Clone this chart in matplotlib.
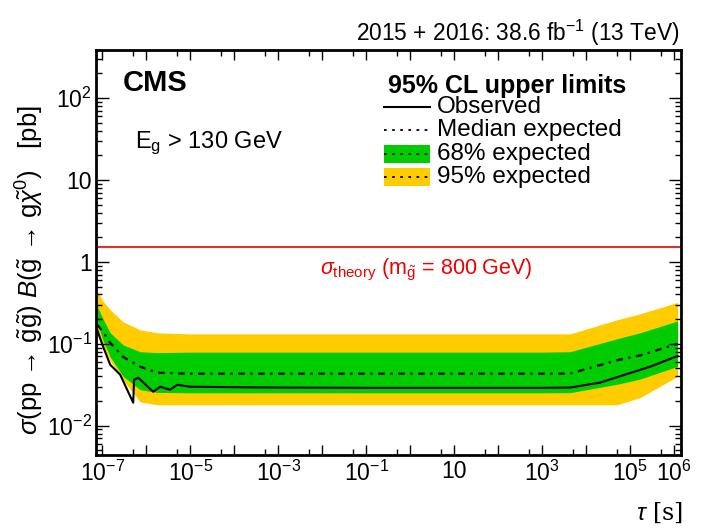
import numpy as np
import matplotlib
matplotlib.use("Agg")
import matplotlib.pyplot as plt
from matplotlib.ticker import FixedLocator, LogLocator, NullFormatter

plt.rcParams['font.family'] = ['Liberation Sans', 'DejaVu Sans']
plt.rcParams['mathtext.fontset'] = 'custom'
plt.rcParams['mathtext.rm'] = 'Liberation Sans'
plt.rcParams['mathtext.it'] = 'Liberation Sans:italic'
plt.rcParams['mathtext.bf'] = 'Liberation Sans:bold'

# ---- data (tau in s, cross section in pb) ----
band_tau = [7.7e-8, 1.05e-7, 1.52e-7, 3.0e-7, 7.3e-7, 1.8e-6, 1e-5, 1e-3, 1e-1, 10, 1e3, 4.3e3, 5e4, 1.67e5, 1.2e6]
yellow_hi = [0.44, 0.33, 0.26, 0.185, 0.148, 0.136, 0.132, 0.132, 0.132, 0.132, 0.132, 0.132, 0.196, 0.232, 0.32]
yellow_lo = [0.125, 0.09, 0.062, 0.036, 0.0195, 0.018, 0.018, 0.018, 0.018, 0.018, 0.018, 0.018, 0.018, 0.022, 0.040]
green_hi = [0.29, 0.2, 0.136, 0.097, 0.080, 0.078, 0.079, 0.079, 0.079, 0.079, 0.079, 0.080, 0.115, 0.136, 0.19]
green_lo = [0.18, 0.11, 0.069, 0.040, 0.0275, 0.0255, 0.0252, 0.0252, 0.0252, 0.0252, 0.0252, 0.0253, 0.032, 0.037, 0.053]
median_exp = [0.17, 0.14, 0.103, 0.069, 0.0525, 0.0443, 0.0431, 0.0431, 0.0431, 0.0431, 0.0431, 0.0432, 0.063, 0.072, 0.10]

obs_tau = [7.7e-8, 1.05e-7, 1.52e-7, 2.56e-7, 5.07e-7, 5.3e-7, 6.6e-7, 1.44e-6, 2.08e-6, 3.5e-6, 5.07e-6, 1e-5,
           1e-3, 1e-1, 10, 1e3, 4.3e3, 2.08e4, 2.85e5, 1.2e6]
observed = [0.148, 0.092, 0.0555, 0.042, 0.0191, 0.0364, 0.0385, 0.026, 0.0299, 0.0275, 0.0316, 0.0299,
            0.0292, 0.0290, 0.0290, 0.0290, 0.0292, 0.0336, 0.0525, 0.071]

sigma_theory = 1.52
x_decades = [10.0 ** k for k in range(-7, 7)]
x_ticks = [1e-7, 1e-5, 1e-3, 1e-1, 10, 1e3, 1e5, 1e6]
x_ticklabels = [r'$10^{-7}$', r'$10^{-5}$', r'$10^{-3}$', r'$10^{-1}$', '10', r'$10^{3}$', r'$10^{5}$', r'$10^{6}$']
y_ticks = [1e-2, 1e-1, 1, 10, 1e2]
y_ticklabels = [r'$10^{-2}$', r'$10^{-1}$', '1', '10', r'$10^{2}$']

yellow = '#ffcc00'
green = '#00cc00'

fig = plt.figure(figsize=(7.14, 5.29), dpi=100)
ax = fig.add_axes([0.1345, 0.14, 0.8195, 0.7655])

ax.fill_between(band_tau, yellow_lo, yellow_hi, color=yellow, lw=0)
ax.fill_between(band_tau, green_lo, green_hi, color=green, lw=0)
ax.plot(band_tau, median_exp, color='black', lw=1.6, dashes=(3, 2.5, 1, 2.5))
ax.plot(obs_tau, observed, color='black', lw=1.5)
ax.axhline(sigma_theory, color='#ee0000', lw=1.2)

ax.set_xscale('log')
ax.set_yscale('log')
ax.set_xlim(10**-7.14, 10**6.16)
ax.set_ylim(0.0044, 385)

label_map = dict(zip(x_ticks, x_ticklabels))
ax.set_xticks(x_decades, [label_map.get(t, '') for t in x_decades])
ax.xaxis.set_minor_locator(LogLocator(base=10, subs=(5.0,), numticks=30))
ax.xaxis.set_minor_formatter(NullFormatter())
ax.yaxis.set_major_locator(FixedLocator(y_ticks))
ax.set_yticklabels(y_ticklabels)
ax.yaxis.set_minor_locator(LogLocator(base=10, subs=np.arange(2, 10), numticks=30))
ax.yaxis.set_minor_formatter(NullFormatter())

ax.tick_params(which='both', direction='in', top=True, right=True, labelsize=16.5, width=1)
ax.tick_params(axis='x', which='major', length=7, pad=4)
ax.tick_params(axis='x', which='minor', length=4)
ax.tick_params(axis='y', which='major', length=9, pad=3)
ax.tick_params(axis='y', which='minor', length=4)
for s in ax.spines.values():
    s.set_linewidth(2)

ax.text(0.046, 0.918, 'CMS', transform=ax.transAxes, fontsize=21, fontweight='bold', va='center', ha='left')
ax.text(0.067, 0.770, r'E$_\mathregular{g}$ > 130 GeV', transform=ax.transAxes, fontsize=17, va='center', ha='left')
ax.text(0.564, 0.458, r'$\sigma_{\mathregular{theory}}$ (m$_{\tilde{\mathregular{g}}}$ = 800 GeV)', transform=ax.transAxes,
        fontsize=15.5, color='#ee0000', va='center', ha='center')

# legend
ax.text(0.499, 0.911, '95% CL upper limits', transform=ax.transAxes, fontsize=18, fontweight='bold', va='center', ha='left')
rows = [0.859, 0.802, 0.743, 0.686]
labels = ['Observed', 'Median expected', '68% expected', '95% expected']
x0, x1 = 0.492, 0.571
ax.plot([x0, x1], [rows[0]] * 2, transform=ax.transAxes, color='black', lw=1.5)
ax.plot([x0, x1], [rows[1]] * 2, transform=ax.transAxes, color='black', lw=1.3, dashes=(1.5, 3))
for r, c in zip(rows[2:], [green, yellow]):
    ax.add_patch(plt.Rectangle((x0, r - 0.022), x1 - x0, 0.044, transform=ax.transAxes, color=c, lw=0))
    ax.plot([x0, x1], [r] * 2, transform=ax.transAxes, color='black', lw=1.3, dashes=(1.5, 3))
for r, l in zip(rows, labels):
    ax.text(0.583, r, l, transform=ax.transAxes, fontsize=17.5, va='center', ha='left')

fig.text(0.952, 0.938, r'2015 + 2016: 38.6 fb$^{\mathregular{-1}}$ (13 TeV)', fontsize=16.4, ha='right', va='center')
fig.text(0.957, 0.03, r'$\tau$ [s]', fontsize=17, ha='right', va='center', family=['DejaVu Serif'])
fig.text(0.042, 0.49,
         r'$\sigma$(pp → $\tilde{\mathregular{g}}\tilde{\mathregular{g}}$) $\mathit{B}$($\tilde{\mathregular{g}}$ → g$\tilde{\chi}^{0}$)   [pb]',
         fontsize=18.5, rotation=90, ha='center', va='center')

fig.savefig('out.png', dpi=100)
